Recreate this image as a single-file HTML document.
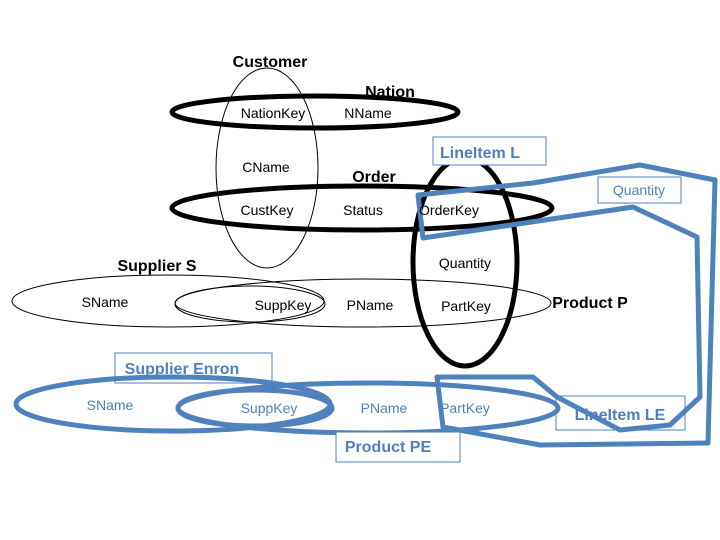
<!DOCTYPE html>
<html><head><meta charset="utf-8"><style>
html,body{margin:0;padding:0;background:#fff}
svg{display:block}
text{font-family:"Liberation Sans",sans-serif;font-size:14px}
.b{font-weight:bold;font-size:16px}
.bl{fill:#4f81bd}
</style></head><body>
<svg width="720" height="540" viewBox="0 0 720 540" xmlns="http://www.w3.org/2000/svg">
<g fill="none" stroke="#000">
<ellipse cx="267" cy="168" rx="51" ry="100" stroke-width="1"/>
<ellipse cx="315" cy="112" rx="143" ry="16" stroke-width="5"/>
<ellipse cx="362" cy="208" rx="190" ry="22" stroke-width="5"/>
<ellipse cx="465" cy="262" rx="52" ry="104" stroke-width="5"/>
<ellipse cx="168" cy="301" rx="156" ry="26" stroke-width="1"/>
<ellipse cx="250" cy="304" rx="75" ry="18" stroke-width="1"/>
<ellipse cx="363" cy="303" rx="188" ry="24" stroke-width="1"/>
</g>
<g fill="none" stroke="#4f81bd" stroke-width="5" stroke-linejoin="round">
<ellipse cx="173" cy="404" rx="157" ry="27"/>
<ellipse cx="255" cy="408" rx="77" ry="18"/>
<ellipse cx="368" cy="408" rx="190" ry="25"/>
<path d="M418,195 L533,183 L640,165 L715,180 L708,443 L540,445 L443,427 L437,377 L533,377 L557,397 L620,430 L670,425 L700,397 L697,237 L633,207 L423,238 Z"/>
</g>
<g fill="#fff" stroke="#4f81bd" stroke-width="1">
<rect x="433" y="137" width="113" height="28"/>
<rect x="598" y="177" width="83" height="26"/>
<rect x="115" y="353" width="157" height="30" fill="none"/>
<rect x="336" y="432" width="124" height="30"/>
<rect x="556" y="396" width="129" height="34" fill="none"/>
</g>
<g text-anchor="middle">
<text x="270" y="67" class="b">Customer</text>
<text x="390" y="97" class="b">Nation</text>
<text x="273" y="118">NationKey</text>
<text x="368" y="118">NName</text>
<text x="266" y="172">CName</text>
<text x="374" y="182" class="b">Order</text>
<text x="480" y="158" class="b bl">LineItem L</text>
<text x="639" y="195" class="bl">Quantity</text>
<text x="267" y="215">CustKey</text>
<text x="363" y="215">Status</text>
<text x="449" y="215">OrderKey</text>
<text x="465" y="268">Quantity</text>
<text x="157" y="271" class="b">Supplier S</text>
<text x="105" y="307">SName</text>
<text x="283" y="310">SuppKey</text>
<text x="370" y="310">PName</text>
<text x="466" y="311">PartKey</text>
<text x="590" y="308" class="b">Product P</text>
<text x="182" y="374" class="b bl">Supplier Enron</text>
<text x="110" y="410" class="bl">SName</text>
<text x="269" y="413" class="bl">SuppKey</text>
<text x="384" y="413" class="bl">PName</text>
<text x="465" y="413" class="bl">PartKey</text>
<text x="388" y="452" class="b bl">Product PE</text>
<text x="620" y="420" class="b bl">LineItem LE</text>
</g>
</svg>
</body></html>
